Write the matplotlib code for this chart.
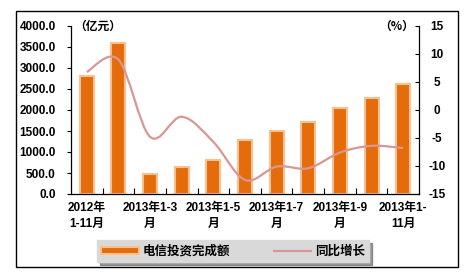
import numpy as np
import matplotlib.pyplot as plt
from matplotlib.path import Path
from matplotlib.patches import PathPatch, Rectangle
from matplotlib.lines import Line2D

plt.rcParams['font.family'] = ['Liberation Sans', 'Noto Sans CJK SC']
plt.rcParams['font.weight'] = 'bold'
plt.rcParams['axes.unicode_minus'] = False

# 数据
periods = ['2012年\n1-11月', '2012年\n1-12月', '2013年1-3\n月', '2013年1-4\n月',
           '2013年1-5\n月', '2013年1-6\n月', '2013年1-7\n月', '2013年1-8\n月',
           '2013年1-9\n月', '2013年1-10\n月', '2013年1-\n11月']
investment = [2810, 3600, 470, 640, 800, 1285, 1500, 1715, 2040, 2280, 2625]
growth = [6.8, 9.0, -4.8, -1.2, -5.7, -12.5, -10.1, -10.4, -7.6, -6.4, -6.8]

bar_color = '#E46C0A'
bar_edge = '#FAC090'
line_color = '#D99694'

fig = plt.figure(figsize=(4.67, 2.75), dpi=100)
ax = fig.add_axes([71 / 467, 1 - 194 / 275, 348 / 467, 168 / 275])
ax2 = ax.twinx()

x = np.arange(len(periods))
bars = ax.bar(x, investment, width=0.44, color=bar_color, edgecolor=bar_edge,
              linewidth=1.5, label='电信投资完成额')

ax.set_xlim(-0.5, len(periods) - 0.5)
ax.set_ylim(0, 4000)
ax.set_yticks(np.arange(0, 4001, 500))
ax.set_yticklabels(['%.1f' % v for v in np.arange(0, 4001, 500)], fontsize=8.5)
ax.tick_params(axis='y', direction='out', length=3, pad=8, width=0.8)

# 横轴：隔一个显示标签
ax.set_xticks(x[::2])
ax.set_xticklabels(periods[::2], fontsize=8.5, linespacing=1.45)
ax.set_xticks(np.arange(0.5, len(periods) - 0.5, 1), minor=True)
ax.tick_params(axis='x', which='major', length=0, pad=6)
ax.tick_params(axis='x', which='minor', direction='in', length=4, width=0.8)

ax2.set_ylim(-15, 15)
ax2.set_yticks(np.arange(-15, 16, 5))
ax2.set_yticklabels([str(v) for v in range(-15, 16, 5)], fontsize=8.5, ha='center')
ax2.tick_params(axis='y', direction='in', length=3, pad=13, width=0.8)

for a in (ax, ax2):
    a.spines['top'].set_visible(False)
    for s in ('left', 'right', 'bottom'):
        a.spines[s].set_linewidth(0.9)
ax2.spines['left'].set_visible(False)
ax2.spines['bottom'].set_visible(False)
ax.spines['right'].set_visible(False)

# 平滑曲线（贝塞尔）
pts = np.column_stack([x, growth]).astype(float)
ext = np.vstack([pts[0], pts, pts[-1]])
verts = [tuple(pts[0])]
codes = [Path.MOVETO]
for i in range(len(pts) - 1):
    p0, p1, p2, p3 = ext[i], ext[i + 1], ext[i + 2], ext[i + 3]
    c1 = p1 + (p2 - p0) / 6
    c2 = p2 - (p3 - p1) / 6
    verts += [tuple(c1), tuple(c2), tuple(p2)]
    codes += [Path.CURVE4] * 3
ax2.add_patch(PathPatch(Path(verts, codes), facecolor='none', edgecolor=line_color,
                        linewidth=1.6, zorder=3))

ax.text(0.01, 1.0, '（亿元）', transform=ax.transAxes, fontsize=8.5,
        family=['Noto Sans CJK SC'], va='center', ha='left')
ax2.text(0.985, 1.0, '（%）', transform=ax2.transAxes, fontsize=8.5,
         family=['Noto Sans CJK SC'], va='center', ha='right')

line_proxy = Line2D([], [], color=line_color, linewidth=1.6)
leg = fig.legend([bars, line_proxy], ['电信投资完成额', '同比增长'],
                 loc='center', bbox_to_anchor=(233 / 467, 1 - 251 / 275), ncol=2,
                 frameon=True, fancybox=False, shadow=True, facecolor='#D9D9D9',
                 edgecolor='#D9D9D9', handlelength=3.0, handleheight=0.5,
                 columnspacing=3.5, borderpad=0.35, handletextpad=0.3,
                 prop={'family': ['Noto Sans CJK SC'], 'weight': 'bold', 'size': 9})

fig.patches.append(Rectangle((16 / 467, 1 - 267 / 275), 442 / 467, 256 / 275,
                             transform=fig.transFigure, fill=False,
                             edgecolor='black', linewidth=1))

fig.savefig('out.png', dpi=100)
